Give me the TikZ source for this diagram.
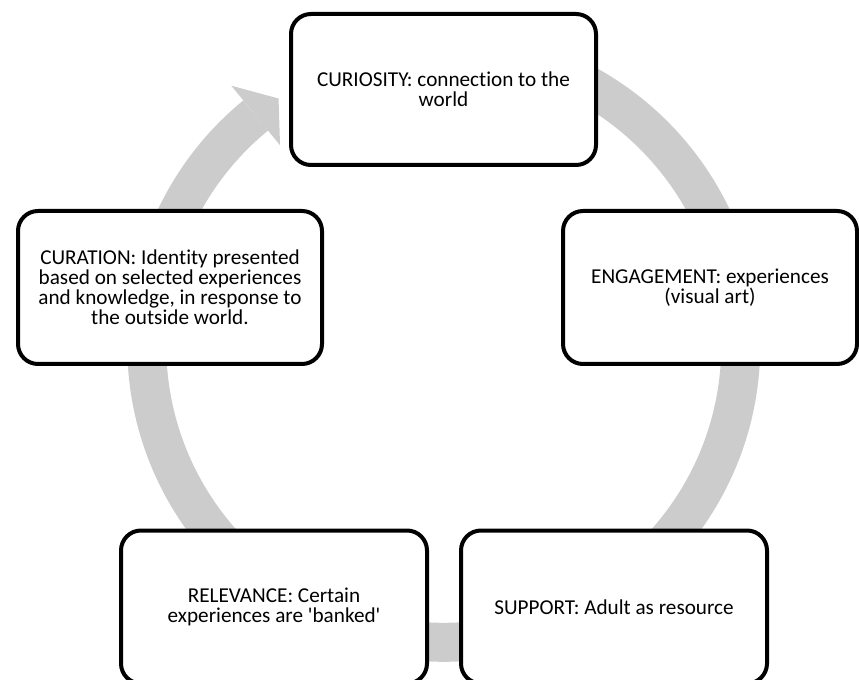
\documentclass[tikz,border=0pt]{standalone}
\usepackage{fontspec}
\newfontfamily\boxfont{Carlito}[Ligatures=NoCommon]
\definecolor{ringgray}{RGB}{204,204,204}

\begin{document}
\begin{tikzpicture}[
  x=0.75pt, y=-0.75pt,
  stage/.style={draw=black, fill=white, line width=3pt, rounded corners=15pt, inner sep=0pt, align=center, font=\boxfont\fontsize{15.9}{15}\selectfont},
  ring/.style={draw=ringgray, line width=29.25pt},
  ringhead/.style={fill=ringgray}
]

  \useasboundingbox (0,0) rectangle (859,680);
  \clip (0,0) rectangle (859,680);

  % Centro del ciclo
  \coordinate (c) at (443.75,345.3);

  % Flecha circular de fondo
  \draw[ring] ([shift={(c)}]-90:297) arc[start angle=-90, end angle=230.7, radius=297];
  \coordinate (hout) at ([shift={(c)}]230.7:335.5);
  \coordinate (htip) at ([shift={(c)}]236.2:297);
  \coordinate (hin) at ([shift={(c)}]230.7:258.5);
  \fill[ringhead] (hout) -- (htip) -- (hin) -- cycle;

  % Etapas
  \node[stage, minimum width=228.75pt, minimum height=113.25pt] (curiosity) at (443.5,89.5) {CURIOSITY: connection to the\\world};
  \node[stage, minimum width=220.5pt, minimum height=114.75pt] (engagement) at (710,287.5) {ENGAGEMENT: experiences\\(visual art)};
  \node[stage, minimum width=229.5pt, minimum height=114.75pt] (support) at (614,607) {SUPPORT: Adult as resource};
  \node[stage, minimum width=229.5pt, minimum height=114.75pt] (relevance) at (274,607) {RELEVANCE: Certain\\experiences are 'banked'};
  \node[stage, minimum width=228pt, minimum height=114.75pt] (curation) at (170,287.5) {CURATION: Identity presented\\based on selected experiences\\and knowledge, in response to\\the outside world.};

\end{tikzpicture}
\end{document}
